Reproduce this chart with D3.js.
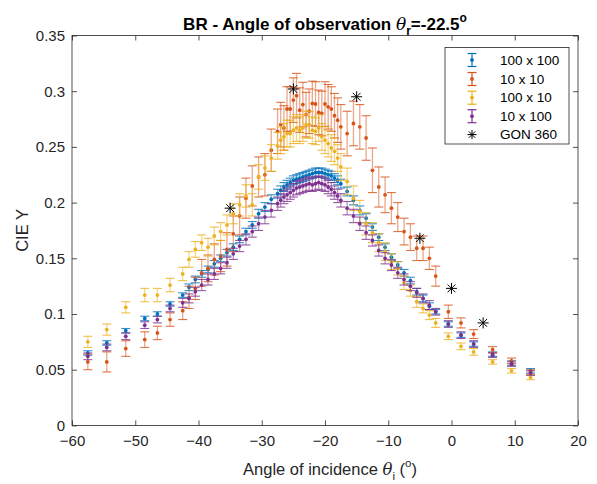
<!DOCTYPE html>
<html>
<head>
<meta charset="utf-8">
<script src="https://cdn.jsdelivr.net/npm/d3@7"></script>
<style>
  body { margin: 0; background: #fff; }
  svg { display: block; font-family: "Liberation Sans", Arial, sans-serif; }
</style>
</head>
<body>
<div id="chart"></div>
<script>
// incidence angles (deg), shared by all four sample series
const angles = [
  -57.5, -54.5, -51.5, -48.5, -46.5, -44.5, -42.5,
  -41.5, -40.5, -39.5, -38.5, -37.5, -36.5, -35.5, -34.5, -33.5, -32.5, -31.5, -30.5, -29.5, -28.5,
  -27.5, -27, -26.5, -26, -25.5, -25, -24.5, -24, -23.5, -23, -22.5, -22, -21.5, -21, -20.5, -20, -19.5, -19, -18.5, -18, -17.5,
  -16.5, -15.5, -14.5, -13.5, -12.5, -11.5, -10.5, -9.5, -8.5, -7.5, -6.5, -5.5, -4.5, -3.5,
  -2.5, -0.5, 1.5, 3.5, 6.5, 9.5, 12.5
];

const y100x100 = [
  0.065, 0.074, 0.085, 0.096, 0.100, 0.109, 0.117,
  0.124, 0.131, 0.136, 0.140, 0.145, 0.150, 0.155, 0.160, 0.167, 0.174, 0.180, 0.190, 0.196, 0.203,
  0.208, 0.211, 0.214, 0.216, 0.218, 0.220, 0.221, 0.222, 0.223, 0.224, 0.225, 0.226, 0.227, 0.227, 0.227, 0.226, 0.225, 0.224, 0.222, 0.220, 0.217,
  0.210, 0.202, 0.193, 0.186, 0.178, 0.169, 0.160, 0.151, 0.144, 0.137, 0.130, 0.120, 0.114, 0.107,
  0.102, 0.091, 0.081, 0.073, 0.064, 0.056, 0.049
];
const e100x100 = [
  0.002, 0.002, 0.002, 0.002, 0.002, 0.002, 0.002,
  0.003, 0.003, 0.003, 0.003, 0.003, 0.003, 0.003, 0.003, 0.003, 0.003, 0.003, 0.004, 0.004, 0.004,
  0.004, 0.004, 0.004, 0.004, 0.004, 0.004, 0.004, 0.004, 0.004, 0.004, 0.004, 0.004, 0.004, 0.004, 0.004, 0.004, 0.004, 0.004, 0.004, 0.004, 0.004,
  0.004, 0.004, 0.004, 0.004, 0.003, 0.003, 0.003, 0.003, 0.003, 0.003, 0.003, 0.003, 0.003, 0.003,
  0.002, 0.002, 0.002, 0.002, 0.002, 0.002, 0.002
];

const y10x10 = [
  0.057, 0.057, 0.069, 0.077, 0.083, 0.095, 0.103,
  0.115, 0.123, 0.137, 0.141, 0.149, 0.152, 0.158, 0.172, 0.188, 0.204, 0.215, 0.223, 0.225, 0.247,
  0.264, 0.270, 0.267, 0.284, 0.284, 0.292, 0.296, 0.283, 0.288, 0.279, 0.282, 0.289, 0.2885, 0.281, 0.280, 0.2885, 0.286, 0.284, 0.278, 0.274, 0.268,
  0.262, 0.271, 0.268, 0.258, 0.229, 0.214, 0.207, 0.195, 0.187, 0.174, 0.169, 0.159, 0.159, 0.150,
  0.134, 0.102, 0.092, 0.082, 0.068, 0.058, 0.048
];
const e10x10 = [
  0.007, 0.009, 0.007, 0.007, 0.006, 0.006, 0.008,
  0.010, 0.010, 0.012, 0.012, 0.014, 0.014, 0.015, 0.016, 0.017, 0.018, 0.018, 0.018, 0.019, 0.019,
  0.020, 0.020, 0.020, 0.020, 0.020, 0.020, 0.020, 0.020, 0.020, 0.020, 0.020, 0.020, 0.020, 0.020, 0.020, 0.020, 0.020, 0.020, 0.020, 0.020, 0.020,
  0.020, 0.020, 0.020, 0.020, 0.020, 0.018, 0.016, 0.014, 0.013, 0.012, 0.012, 0.011, 0.011, 0.010,
  0.009, 0.006, 0.0045, 0.004, 0.0027, 0.0025, 0.002
];

const y100x10 = [
  0.075, 0.086, 0.106, 0.117, 0.117, 0.126, 0.136,
  0.149, 0.158, 0.164, 0.160, 0.170, 0.174, 0.180, 0.190, 0.198, 0.206, 0.198, 0.223, 0.231, 0.240,
  0.251, 0.256, 0.259, 0.262, 0.262, 0.265, 0.267, 0.265, 0.267, 0.270, 0.270, 0.265, 0.264, 0.267, 0.259, 0.256, 0.253, 0.249, 0.246, 0.240, 0.232,
  0.219, 0.204, 0.192, 0.181, 0.173, 0.164, 0.156, 0.147, 0.141, 0.128, 0.121, 0.111, 0.105, 0.099,
  0.092, 0.080, 0.071, 0.066, 0.057, 0.049, 0.043
];
const e100x10 = [
  0.005, 0.005, 0.005, 0.006, 0.006, 0.006, 0.006,
  0.007, 0.007, 0.007, 0.008, 0.008, 0.008, 0.009, 0.009, 0.010, 0.010, 0.010, 0.011, 0.011, 0.012,
  0.012, 0.012, 0.012, 0.012, 0.012, 0.012, 0.012, 0.012, 0.012, 0.012, 0.012, 0.012, 0.012, 0.012, 0.012, 0.012, 0.012, 0.012, 0.012, 0.012, 0.012,
  0.012, 0.011, 0.010, 0.010, 0.009, 0.008, 0.008, 0.007, 0.006, 0.006, 0.005, 0.005, 0.004, 0.004,
  0.004, 0.003, 0.003, 0.003, 0.002, 0.002, 0.002
];

const y10x100 = [
  0.062, 0.070, 0.080, 0.090, 0.095, 0.105, 0.110,
  0.114, 0.120, 0.126, 0.131, 0.136, 0.141, 0.146, 0.154, 0.161, 0.167, 0.174, 0.181, 0.187, 0.193,
  0.199, 0.202, 0.205, 0.207, 0.209, 0.211, 0.213, 0.214, 0.215, 0.216, 0.217, 0.216, 0.217, 0.218, 0.217, 0.216, 0.214, 0.212, 0.209, 0.206, 0.202,
  0.195, 0.188, 0.181, 0.173, 0.166, 0.157, 0.150, 0.144, 0.137, 0.131, 0.125, 0.119, 0.114, 0.108,
  0.102, 0.091, 0.081, 0.073, 0.063, 0.055, 0.047
];
const e10x100 = [
  0.003, 0.003, 0.003, 0.003, 0.003, 0.003, 0.004,
  0.004, 0.004, 0.005, 0.005, 0.005, 0.005, 0.005, 0.005, 0.005, 0.005, 0.005, 0.006, 0.006, 0.006,
  0.006, 0.006, 0.006, 0.006, 0.006, 0.006, 0.006, 0.006, 0.006, 0.006, 0.006, 0.006, 0.006, 0.006, 0.006, 0.006, 0.006, 0.006, 0.006, 0.006, 0.006,
  0.006, 0.006, 0.006, 0.006, 0.005, 0.005, 0.005, 0.005, 0.005, 0.005, 0.004, 0.004, 0.004, 0.004,
  0.003, 0.003, 0.003, 0.003, 0.002, 0.002, 0.002
];

// GON 360 goniometer reference
const gonAngles = [-35, -25, -15, -5, 0, 5];
const gonValues = [0.195, 0.302, 0.295, 0.168, 0.123, 0.092];

const xTicks = [-60, -50, -40, -30, -20, -10, 0, 10, 20];
const yTicks = [0, 0.05, 0.1, 0.15, 0.2, 0.25, 0.3, 0.35];

const SERIES = [
  { name: '100 x 100', color: '#0072BD', values: y100x100, errors: e100x100 },
  { name: '10 x 10',   color: '#D95319', values: y10x10,   errors: e10x10 },
  { name: '100 x 10',  color: '#EDB120', values: y100x10,  errors: e100x10 },
  { name: '10 x 100',  color: '#7E2F8E', values: y10x100,  errors: e10x100 },
];

const W = 597, H = 484;
const margin = { top: 35.5, right: 19, bottom: 58.6, left: 72 };
const ink = '#262626';
const capW = 4.5;

const svg = d3.select('#chart').append('svg')
  .attr('width', W).attr('height', H);

const x = d3.scaleLinear().domain([-60, 20]).range([margin.left, W - margin.right]);
const y = d3.scaleLinear().domain([0, 0.35]).range([H - margin.bottom, margin.top]);

const fmt = d => d < 0 ? '\u2212' + Math.abs(d) : String(d);

// axes, ticks pointing inward on all four sides
svg.append('g')
  .attr('transform', `translate(0,${y(0)})`)
  .call(d3.axisBottom(x).tickValues(xTicks).tickSize(-5).tickPadding(10).tickFormat(fmt))
  .call(g => g.select('.domain').remove());
svg.append('g')
  .attr('transform', `translate(0,${y(0.35)})`)
  .call(d3.axisTop(x).tickValues(xTicks).tickSize(-5).tickFormat(''))
  .call(g => g.select('.domain').remove());
svg.append('g')
  .attr('transform', `translate(${x(-60)},0)`)
  .call(d3.axisLeft(y).tickValues(yTicks).tickSize(-5).tickPadding(7).tickFormat(fmt))
  .call(g => g.select('.domain').remove());
svg.append('g')
  .attr('transform', `translate(${x(20)},0)`)
  .call(d3.axisRight(y).tickValues(yTicks).tickSize(-5).tickFormat(''))
  .call(g => g.select('.domain').remove());

svg.selectAll('.tick line').attr('stroke', ink).attr('stroke-width', 0.8);
svg.selectAll('.tick text').attr('fill', ink).attr('font-size', 15)
  .attr('font-family', '"Liberation Sans", Arial, sans-serif');

svg.append('rect')
  .attr('x', x(-60)).attr('y', y(0.35))
  .attr('width', x(20) - x(-60)).attr('height', y(0) - y(0.35))
  .attr('fill', 'none').attr('stroke', ink).attr('stroke-width', 0.8);

// error bar series
SERIES.forEach(s => {
  const pts = angles.map((a, i) => ({ a, v: s.values[i], e: s.errors[i] }));
  const g = svg.append('g');
  g.selectAll('.bar').data(pts).join('line')
    .attr('x1', d => x(d.a)).attr('x2', d => x(d.a))
    .attr('y1', d => y(d.v - d.e)).attr('y2', d => y(d.v + d.e))
    .attr('stroke', s.color).attr('stroke-width', 1.3).attr('opacity', 0.5);
  [-1, 1].forEach(sign => {
    g.selectAll('.cap' + sign).data(pts).join('line')
      .attr('x1', d => x(d.a) - capW).attr('x2', d => x(d.a) + capW)
      .attr('y1', d => y(d.v + sign * d.e)).attr('y2', d => y(d.v + sign * d.e))
      .attr('stroke', s.color).attr('stroke-width', 1.1).attr('opacity', 0.8);
  });
  g.selectAll('circle').data(pts).join('circle')
    .attr('cx', d => x(d.a)).attr('cy', d => y(d.v))
    .attr('r', 1.9).attr('fill', s.color);
});

function star(sel, r) {
  [[0, 1], [1, 0], [0.707, 0.707], [0.707, -0.707]].forEach(([dx, dy]) => {
    sel.append('line')
      .attr('x1', -dx * r).attr('y1', -dy * r)
      .attr('x2', dx * r).attr('y2', dy * r)
      .attr('stroke', '#000').attr('stroke-width', 1);
  });
}

gonAngles.forEach((a, i) => {
  svg.append('g')
    .attr('transform', `translate(${x(a)},${y(gonValues[i])})`)
    .call(star, 5.5);
});

// title
const title = svg.append('text')
  .attr('x', (x(-60) + x(20)) / 2).attr('y', 29.5)
  .attr('text-anchor', 'middle')
  .attr('font-size', 17).attr('font-weight', 'bold').attr('fill', '#000');
title.append('tspan').text('BR - Angle of observation ');
title.append('tspan').attr('font-family', '"DejaVu Serif", serif').attr('font-style', 'italic')
  .attr('font-weight', 'normal').text('\u03b8');
title.append('tspan').attr('font-size', 12).attr('dy', 5).text('r');
title.append('tspan').attr('dy', -5).text('=-22.5');
title.append('tspan').attr('font-size', 12).attr('dy', -8).text('o');

// axis labels
const xl = svg.append('text')
  .attr('x', (x(-60) + x(20)) / 2 + 5).attr('y', 475)
  .attr('text-anchor', 'middle').attr('font-size', 16.5).attr('fill', ink);
xl.append('tspan').text('Angle of incidence ');
xl.append('tspan').attr('font-family', '"DejaVu Serif", serif').attr('font-style', 'italic').text('\u03b8');
xl.append('tspan').attr('font-size', 11.5).attr('dy', 5).text('i');
xl.append('tspan').attr('dy', -5).text(' (');
xl.append('tspan').attr('font-size', 11.5).attr('dy', -8).text('o');
xl.append('tspan').attr('dy', 8).text(')');

svg.append('text')
  .attr('transform', `translate(28,${(y(0) + y(0.35)) / 2}) rotate(-90)`)
  .attr('text-anchor', 'middle').attr('font-size', 16.5).attr('fill', ink)
  .text('CIE Y');

// legend
const lg = svg.append('g');
lg.append('rect')
  .attr('x', 445).attr('y', 47.5).attr('width', 124).attr('height', 96.5)
  .attr('fill', '#fff').attr('stroke', ink).attr('stroke-width', 0.8);
const rowY = [60, 79, 97.7, 116.2, 134.6];
SERIES.forEach((s, i) => {
  const r = lg.append('g').attr('transform', `translate(472,${rowY[i]})`);
  r.append('line').attr('x1', 0).attr('x2', 0).attr('y1', -6.5).attr('y2', 6.5)
    .attr('stroke', s.color).attr('stroke-width', 1.2);
  [-6.5, 6.5].forEach(cy => r.append('line')
    .attr('x1', -capW).attr('x2', capW).attr('y1', cy).attr('y2', cy)
    .attr('stroke', s.color).attr('stroke-width', 1.2));
  r.append('circle').attr('r', 1.9).attr('fill', s.color);
  lg.append('text').attr('x', 500).attr('y', rowY[i]).attr('dy', '0.35em')
    .attr('font-size', 13.5).attr('fill', '#000').text(s.name);
});
lg.append('g').attr('transform', `translate(472,${rowY[4]})`).call(star, 4.5);
lg.append('text').attr('x', 500).attr('y', rowY[4]).attr('dy', '0.35em')
  .attr('font-size', 13.5).attr('fill', '#000').text('GON 360');
</script>
</body>
</html>
